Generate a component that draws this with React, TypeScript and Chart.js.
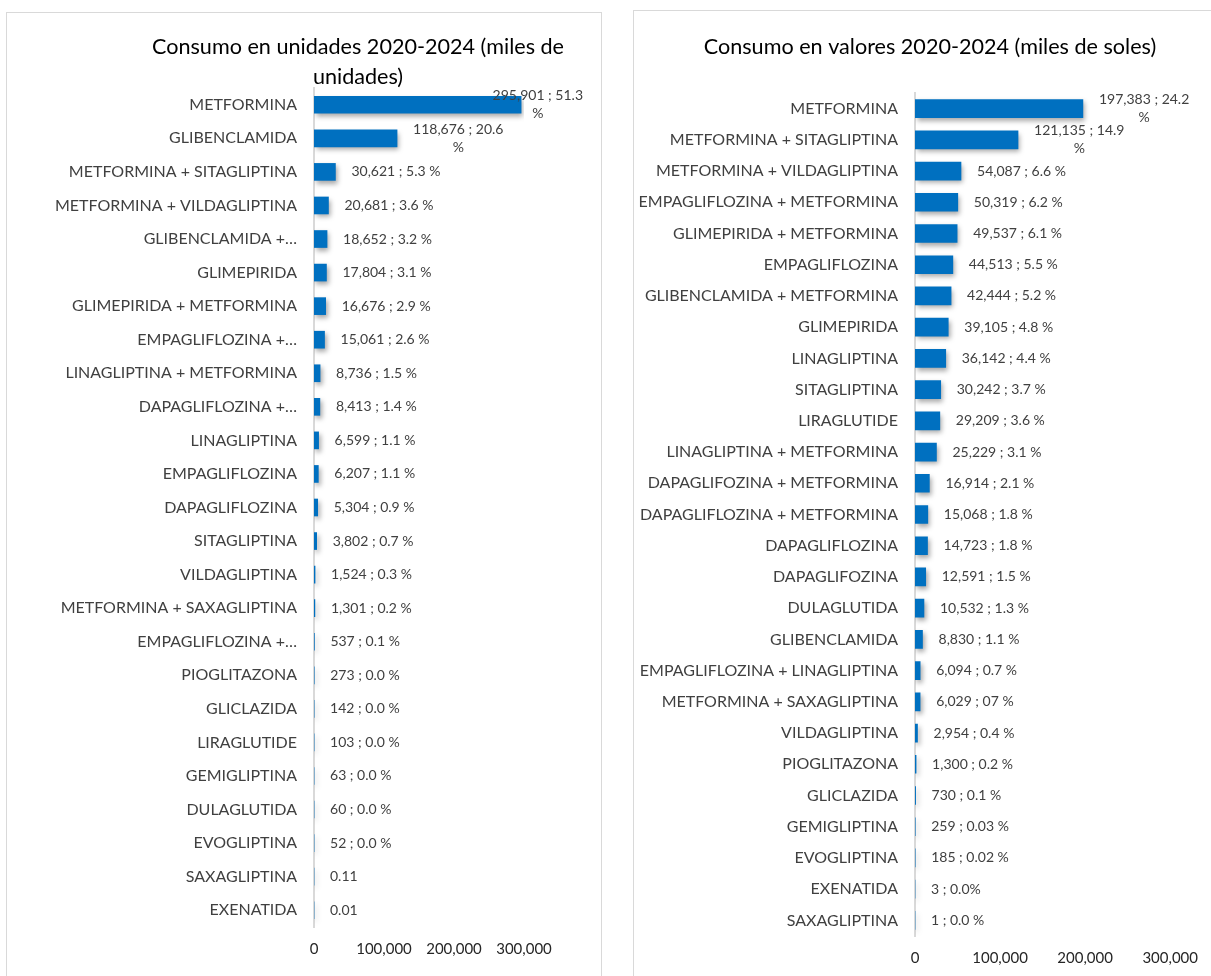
import React, { useEffect, useRef } from "react";
import { Chart, registerables } from "chart.js";

Chart.register(...registerables);

// ---------- DATA ----------
const unitTitle = ["Consumo en unidades 2020-2024 (miles de", "unidades)"];
const unitCategories = [
  "METFORMINA",
  "GLIBENCLAMIDA",
  "METFORMINA + SITAGLIPTINA",
  "METFORMINA + VILDAGLIPTINA",
  "GLIBENCLAMIDA +…",
  "GLIMEPIRIDA",
  "GLIMEPIRIDA + METFORMINA",
  "EMPAGLIFLOZINA +…",
  "LINAGLIPTINA + METFORMINA",
  "DAPAGLIFLOZINA +…",
  "LINAGLIPTINA",
  "EMPAGLIFLOZINA",
  "DAPAGLIFLOZINA",
  "SITAGLIPTINA",
  "VILDAGLIPTINA",
  "METFORMINA + SAXAGLIPTINA",
  "EMPAGLIFLOZINA +…",
  "PIOGLITAZONA",
  "GLICLAZIDA",
  "LIRAGLUTIDE",
  "GEMIGLIPTINA",
  "DULAGLUTIDA",
  "EVOGLIPTINA",
  "SAXAGLIPTINA",
  "EXENATIDA",
];
const unitValues = [
  295901, 118676, 30621, 20681, 18652, 17804, 16676, 15061, 8736, 8413, 6599,
  6207, 5304, 3802, 1524, 1301, 537, 273, 142, 103, 63, 60, 52, 0.11, 0.01,
];
const unitDataLabels = [
  "295,901 ; 51.3\n%",
  "118,676 ; 20.6\n%",
  "30,621 ; 5.3 %",
  "20,681 ; 3.6 %",
  "18,652 ; 3.2 %",
  "17,804 ; 3.1 %",
  "16,676 ; 2.9 %",
  "15,061 ; 2.6 %",
  "8,736 ; 1.5 %",
  "8,413 ; 1.4 %",
  "6,599 ; 1.1 %",
  "6,207 ; 1.1 %",
  "5,304 ; 0.9 %",
  "3,802 ; 0.7 %",
  "1,524 ; 0.3 %",
  "1,301 ; 0.2 %",
  "537 ; 0.1 %",
  "273 ; 0.0 %",
  "142 ; 0.0 %",
  "103 ; 0.0 %",
  "63 ; 0.0 %",
  "60 ; 0.0 %",
  "52 ; 0.0 %",
  "0.11",
  "0.01",
];

const valueTitle = ["Consumo en valores 2020-2024 (miles de soles)"];
const valueCategories = [
  "METFORMINA",
  "METFORMINA + SITAGLIPTINA",
  "METFORMINA + VILDAGLIPTINA",
  "EMPAGLIFLOZINA + METFORMINA",
  "GLIMEPIRIDA + METFORMINA",
  "EMPAGLIFLOZINA",
  "GLIBENCLAMIDA + METFORMINA",
  "GLIMEPIRIDA",
  "LINAGLIPTINA",
  "SITAGLIPTINA",
  "LIRAGLUTIDE",
  "LINAGLIPTINA + METFORMINA",
  "DAPAGLIFOZINA + METFORMINA",
  "DAPAGLIFLOZINA + METFORMINA",
  "DAPAGLIFLOZINA",
  "DAPAGLIFOZINA",
  "DULAGLUTIDA",
  "GLIBENCLAMIDA",
  "EMPAGLIFLOZINA + LINAGLIPTINA",
  "METFORMINA + SAXAGLIPTINA",
  "VILDAGLIPTINA",
  "PIOGLITAZONA",
  "GLICLAZIDA",
  "GEMIGLIPTINA",
  "EVOGLIPTINA",
  "EXENATIDA",
  "SAXAGLIPTINA",
];
const valueValues = [
  197383, 121135, 54087, 50319, 49537, 44513, 42444, 39105, 36142, 30242,
  29209, 25229, 16914, 15068, 14723, 12591, 10532, 8830, 6094, 6029, 2954,
  1300, 730, 259, 185, 3, 1,
];
const valueDataLabels = [
  "197,383 ; 24.2\n%",
  "121,135 ; 14.9\n%",
  "54,087 ; 6.6 %",
  "50,319 ; 6.2 %",
  "49,537 ; 6.1 %",
  "44,513 ; 5.5 %",
  "42,444 ; 5.2 %",
  "39,105 ; 4.8 %",
  "36,142 ; 4.4 %",
  "30,242 ; 3.7 %",
  "29,209 ; 3.6 %",
  "25,229 ; 3.1 %",
  "16,914 ; 2.1 %",
  "15,068 ; 1.8 %",
  "14,723 ; 1.8 %",
  "12,591 ; 1.5 %",
  "10,532 ; 1.3 %",
  "8,830 ; 1.1 %",
  "6,094 ; 0.7 %",
  "6,029 ; 07 %",
  "2,954 ; 0.4 %",
  "1,300 ; 0.2 %",
  "730 ; 0.1 %",
  "259 ; 0.03 %",
  "185 ; 0.02 %",
  "3 ; 0.0%",
  "1 ; 0.0 %",
];

const axisTicks = [0, 100000, 200000, 300000];

// ---------- STYLE ----------
const FONT = "Lato";
const BAR_COLOR = "#0070C0";
const TEXT_COLOR = "#404040";

type Props = {
  left: number;
  top: number;
  width: number;
  height: number;
  categories: string[];
  values: number[];
  dataLabels: string[];
  title: string[];
  area: { left: number; right: number; top: number; bottom: number };
  titleX: number;
  titleY: number;
  barThickness: number;
  labelMaxRight: number;
};

function BarPanel(p: Props) {
  const ref = useRef<HTMLCanvasElement | null>(null);

  useEffect(() => {
    if (!ref.current) return;
    const W = p.width;
    const H = p.height;

    const decorPlugin = {
      id: "decor",
      beforeDatasetsDraw(chart: any) {
        const ctx = chart.ctx;
        ctx.save();
        ctx.shadowColor = "rgba(0,0,0,0.35)";
        ctx.shadowBlur = 5;
        ctx.shadowOffsetX = 2;
        ctx.shadowOffsetY = 3;
      },
      afterDatasetsDraw(chart: any) {
        const ctx = chart.ctx;
        ctx.restore();
        const meta = chart.getDatasetMeta(0);
        ctx.save();
        ctx.font = `14px ${FONT}`;
        ctx.fillStyle = TEXT_COLOR;
        ctx.textBaseline = "middle";
        const lh = 18;
        meta.data.forEach((bar: any, i: number) => {
          const text = p.dataLabels[i];
          const lines = text.split("\n");
          const x0 = bar.x + 16;
          const y = bar.y;
          if (lines.length === 1) {
            ctx.textAlign = "left";
            ctx.fillText(lines[0], x0, y);
          } else {
            const w = ctx.measureText(lines[0]).width;
            const leftX = Math.min(x0, p.labelMaxRight - w);
            const cx = leftX + w / 2;
            ctx.textAlign = "center";
            lines.forEach((ln: string, k: number) => {
              ctx.fillText(ln, cx, y + (k - (lines.length - 1) / 2) * lh);
            });
          }
        });
        ctx.restore();
      },
      afterDraw(chart: any) {
        const ctx = chart.ctx;
        ctx.save();
        ctx.font = `21.6px ${FONT}`;
        ctx.fillStyle = "#000000";
        ctx.textAlign = "center";
        ctx.textBaseline = "middle";
        p.title.forEach((t: string, k: number) => {
          ctx.fillText(t, p.titleX, p.titleY + k * 30);
        });
        ctx.restore();
      },
    };

    const chart = new Chart(ref.current, {
      type: "bar",
      data: {
        labels: p.categories,
        datasets: [
          {
            data: p.values,
            backgroundColor: BAR_COLOR,
            borderWidth: 0,
            barThickness: p.barThickness,
          },
        ],
      },
      options: {
        indexAxis: "y",
        responsive: false,
        animation: false,
        layout: {
          padding: { left: 0, top: p.area.top, right: W - p.area.right, bottom: 0 },
        },
        plugins: {
          legend: { display: false },
          tooltip: { enabled: false },
          title: { display: false },
        },
        scales: {
          x: {
            min: 0,
            max: 300000,
            afterBuildTicks: (s: any) => {
              s.ticks = axisTicks.map((v) => ({ value: v }));
            },
            afterFit: (s: any) => {
              s.height = H - p.area.bottom;
            },
            grid: { display: false, drawTicks: false },
            border: { display: false },
            ticks: {
              font: { family: FONT, size: 15 },
              color: "#262626",
              padding: 13,
              maxRotation: 0,
              callback: (v: any) => Number(v).toLocaleString("en-US"),
            },
          },
          y: {
            afterFit: (s: any) => {
              s.width = p.area.left;
            },
            grid: { display: false, drawTicks: false },
            border: { display: true, color: "#D9D9D9", width: 2 },
            ticks: {
              font: { family: FONT, size: 16 },
              color: TEXT_COLOR,
              padding: 17,
              autoSkip: false,
            },
          },
        },
      },
      plugins: [decorPlugin],
    } as any);

    return () => chart.destroy();
  }, []);

  return (
    <canvas
      ref={ref}
      width={p.width}
      height={p.height}
      style={{
        position: "absolute",
        left: p.left,
        top: p.top,
        width: p.width,
        height: p.height,
      }}
    />
  );
}

export default function App() {
  return (
    <div
      style={{
        position: "absolute",
        left: 0,
        top: 0,
        width: 1211,
        height: 976,
        overflow: "hidden",
        background: "#ffffff",
      }}
    >
      <div
        style={{
          position: "absolute",
          left: 6,
          top: 12,
          width: 594,
          height: 1000,
          border: "1.5px solid #D9D9D9",
        }}
      />
      <div
        style={{
          position: "absolute",
          left: 633,
          top: 10,
          width: 620,
          height: 1000,
          border: "1.5px solid #D9D9D9",
        }}
      />
      <BarPanel
        left={8}
        top={14}
        width={590}
        height={962}
        categories={unitCategories}
        values={unitValues}
        dataLabels={unitDataLabels}
        title={unitTitle}
        area={{ left: 306, right: 516, top: 74, bottom: 913 }}
        titleX={350}
        titleY={33}
        barThickness={17}
        labelMaxRight={575}
      />
      <BarPanel
        left={635}
        top={12}
        width={576}
        height={964}
        categories={valueCategories}
        values={valueValues}
        dataLabels={valueDataLabels}
        title={valueTitle}
        area={{ left: 280, right: 541, top: 81, bottom: 924 }}
        titleX={295}
        titleY={35}
        barThickness={18}
        labelMaxRight={570}
      />
    </div>
  );
}
